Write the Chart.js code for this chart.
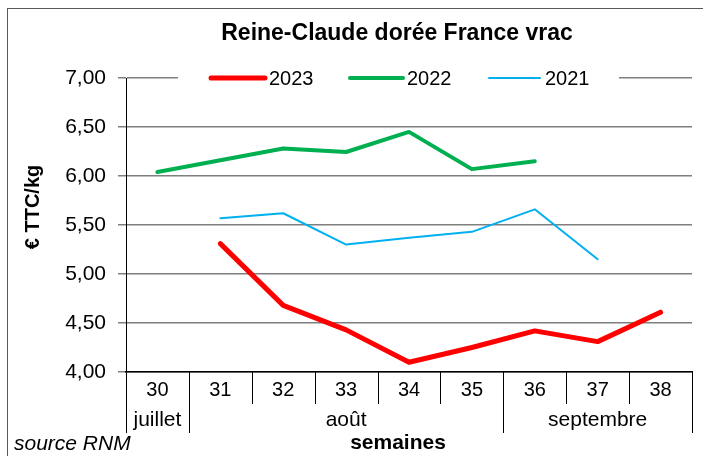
<!DOCTYPE html>
<html>
<head>
<meta charset="utf-8">
<script src="https://cdn.jsdelivr.net/npm/chart.js@4"></script>
<style>
  html, body { margin: 0; padding: 0; background: #fff; }
  #wrap { width: 703px; height: 456px; position: relative; }
</style>
</head>
<body>
<div id="wrap"><canvas id="chart" width="703" height="456"></canvas></div>
<script>
const weeks = ["30", "31", "32", "33", "34", "35", "36", "37", "38"];
const months = ["juillet", "août", "septembre"];
const monthSpans = [1, 5, 3];

const prix2023 = [null, 5.31, 4.68, 4.43, 4.10, 4.25, 4.42, 4.31, 4.61];
const prix2022 = [6.04, 6.16, 6.28, 6.245, 6.45, 6.07, 6.15, null, null];
const prix2021 = [null, 5.57, 5.62, 5.30, 5.37, 5.43, 5.66, 5.15, null];

const yTicks = [4, 4.5, 5, 5.5, 6, 6.5, 7];

const FONT = "'Liberation Sans', Arial, sans-serif";

// frame, title, y title, month row, legend
const decor = {
  id: "decor",
  beforeDraw(chart) {
    const ctx = chart.ctx;
    ctx.save();
    ctx.fillStyle = "#fff";
    ctx.fillRect(0, 0, chart.width, chart.height);
    ctx.strokeStyle = "#595959";
    ctx.lineWidth = 1;
    ctx.strokeRect(7.5, 8.5, 720, 500);
    ctx.restore();
  },
  afterDraw(chart) {
    const ctx = chart.ctx;
    const x = chart.scales.x;
    const area = chart.chartArea;
    const step = (x.right - x.left) / weeks.length;
    ctx.save();

    // title
    ctx.fillStyle = "#000";
    ctx.font = "bold 23px " + FONT;
    ctx.textAlign = "center";
    ctx.textBaseline = "middle";
    ctx.fillText("Reine-Claude dorée France vrac", 397, 34);

    // y axis title
    ctx.save();
    ctx.translate(33, 207);
    ctx.rotate(-Math.PI / 2);
    ctx.font = "bold 20px " + FONT;
    ctx.fillText("€ TTC/kg", 0, 0);
    ctx.restore();

    // category separators
    ctx.strokeStyle = "#000";
    ctx.lineWidth = 1;
    ctx.beginPath();
    for (let i = 1; i < weeks.length; i++) {
      const px = Math.round(x.left + i * step) + 0.5;
      ctx.moveTo(px, area.bottom);
      ctx.lineTo(px, 404);
    }
    // month separators
    let idx = 0;
    const bounds = [0];
    monthSpans.forEach(s => { idx += s; bounds.push(idx); });
    bounds.forEach(b => {
      const px = Math.round(x.left + b * step) + 0.5;
      ctx.moveTo(px, area.bottom);
      ctx.lineTo(px, 433);
    });
    ctx.stroke();

    // month labels
    ctx.font = "21px " + FONT;
    for (let m = 0; m < months.length; m++) {
      const cx = x.left + (bounds[m] + bounds[m + 1]) / 2 * step;
      ctx.fillText(months[m], cx, 420);
    }

    // axis title + source
    ctx.font = "bold 21px " + FONT;
    ctx.fillText("semaines", 398, 443);
    ctx.font = "italic 21px " + FONT;
    ctx.textAlign = "left";
    ctx.fillText("source RNM", 14, 444);

    // legend over the top gridline
    const ly = chart.scales.y.getPixelForValue(7);
    ctx.fillStyle = "#fff";
    ctx.fillRect(178, ly - 12, 441, 24);
    const items = [[211, 265, 269], [350, 403, 407], [489, 540, 545]];
    chart.data.datasets.forEach((ds, i) => {
      const it = items[i];
      ctx.strokeStyle = ds.borderColor;
      ctx.lineWidth = ds.borderWidth;
      ctx.lineCap = "round";
      ctx.beginPath();
      ctx.moveTo(it[0], ly);
      ctx.lineTo(it[1], ly);
      ctx.stroke();
      ctx.fillStyle = "#000";
      ctx.font = "20px " + FONT;
      ctx.textAlign = "left";
      ctx.fillText(ds.label, it[2], ly + 1);
    });

    ctx.restore();
  }
};

new Chart(document.getElementById("chart"), {
  type: "line",
  data: {
    labels: weeks,
    datasets: [
      { label: "2023", data: prix2023, borderColor: "#ff0000", borderWidth: 5, pointRadius: 0, borderCapStyle: "round", borderJoinStyle: "round" },
      { label: "2022", data: prix2022, borderColor: "#00b050", borderWidth: 4, pointRadius: 0, borderCapStyle: "round", borderJoinStyle: "round" },
      { label: "2021", data: prix2021, borderColor: "#00b0f0", borderWidth: 2, pointRadius: 0, borderCapStyle: "round", borderJoinStyle: "round" }
    ]
  },
  options: {
    responsive: false,
    animation: false,
    layout: { padding: { left: 0, top: 78, right: 11, bottom: 0 } },
    plugins: { legend: { display: false }, title: { display: false }, tooltip: { enabled: false } },
    scales: {
      x: {
        offset: true,
        afterFit: s => { s.height = 84; },
        grid: { display: false, drawTicks: false },
        border: { color: "#000", width: 1.5 },
        ticks: { color: "#000", font: { size: 20, family: FONT }, padding: 6, maxRotation: 0 }
      },
      y: {
        min: 4,
        max: 7,
        afterFit: s => { s.width = 126; },
        afterBuildTicks: s => { s.ticks = yTicks.map(v => ({ value: v })); },
        grid: { color: "#7f7f7f", lineWidth: 1.5, tickLength: 8 },
        border: { color: "#000", width: 1 },
        ticks: {
          color: "#000",
          padding: 12,
          font: { size: 21, family: FONT },
          callback: v => v.toFixed(2).replace(".", ",")
        }
      }
    }
  },
  plugins: [decor]
});
</script>
</body>
</html>
